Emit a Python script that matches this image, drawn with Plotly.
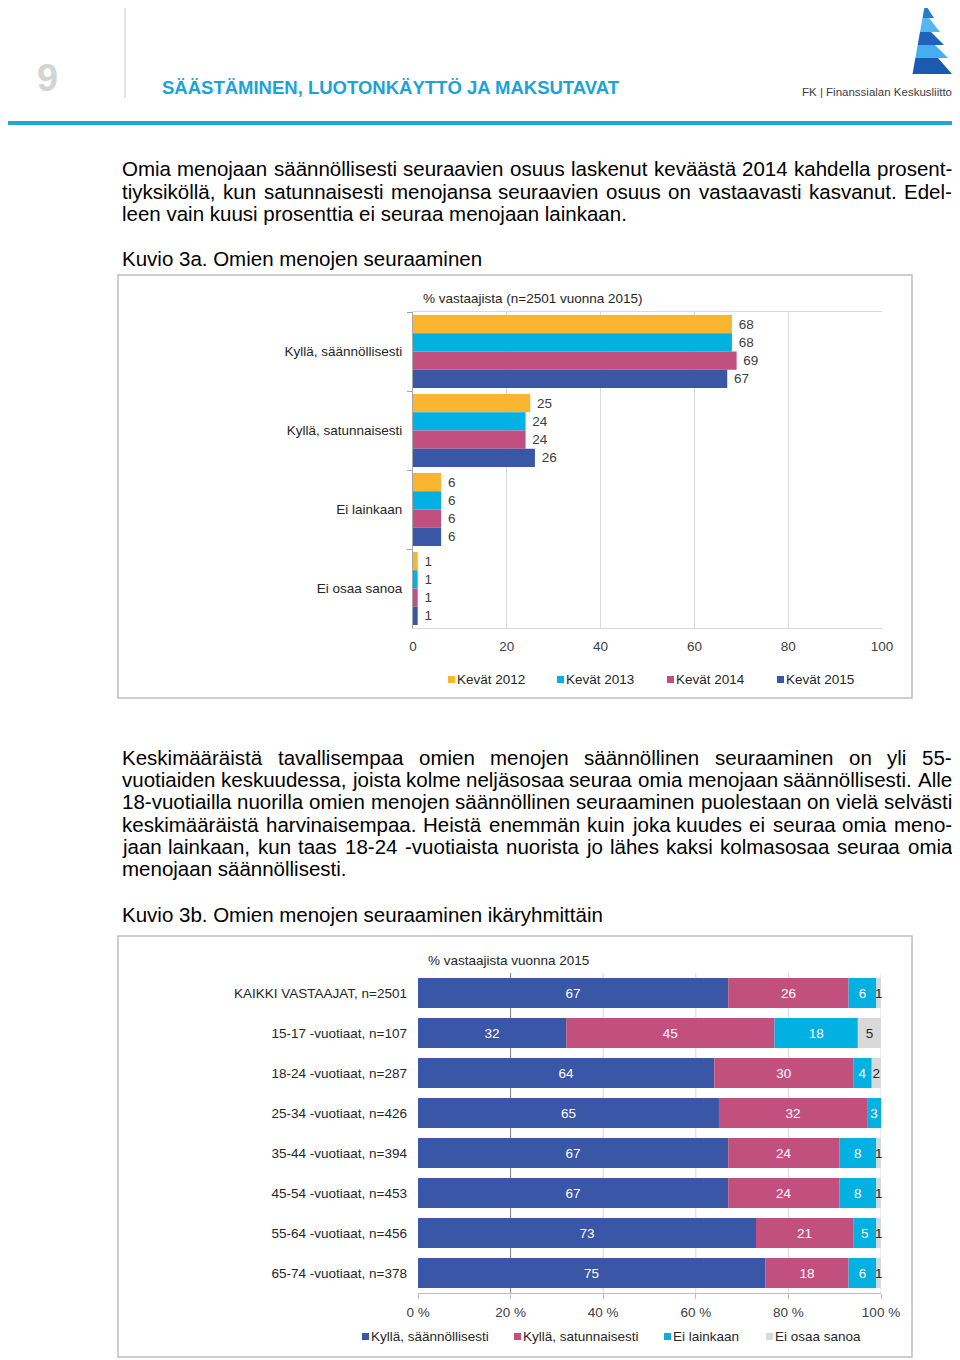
import plotly.graph_objects as go

# ---------------- data ----------------
answers = ["Kyllä, säännöllisesti", "Kyllä, satunnaisesti", "Ei lainkaan", "Ei osaa sanoa"]
years = ["Kevät 2012", "Kevät 2013", "Kevät 2014", "Kevät 2015"]
v2012 = [68, 25, 6, 1]
v2013 = [68, 24, 6, 1]
v2014 = [69, 24, 6, 1]
v2015 = [67, 26, 6, 1]

groups = ["KAIKKI VASTAAJAT, n=2501", "15-17 -vuotiaat, n=107", "18-24 -vuotiaat, n=287",
          "25-34 -vuotiaat, n=426", "35-44 -vuotiaat, n=394", "45-54 -vuotiaat, n=453",
          "55-64 -vuotiaat, n=456", "65-74 -vuotiaat, n=378"]
saannollisesti = [67, 32, 64, 65, 67, 67, 73, 75]
satunnaisesti = [26, 45, 30, 32, 24, 24, 21, 18]
ei_lainkaan = [6, 18, 4, 3, 8, 8, 5, 6]
ei_osaa = [1, 5, 2, 0, 1, 1, 1, 1]

ticks1 = [0, 20, 40, 60, 80, 100]
ticks2 = [0, 20, 40, 60, 80, 100]
ticklabels2 = ["0 %", "20 %", "40 %", "60 %", "80 %", "100 %"]

title1 = "% vastaajista (n=2501 vuonna 2015)"
title2 = "% vastaajista vuonna 2015"

para1 = ["Omia menojaan säännöllisesti seuraavien osuus laskenut keväästä 2014 kahdella prosent-",
         "tiyksiköllä, kun satunnaisesti menojansa seuraavien osuus on vastaavasti kasvanut. Edel-",
         "leen vain kuusi prosenttia ei seuraa menojaan lainkaan."]
para2 = ["Keskimääräistä tavallisempaa omien menojen säännöllinen seuraaminen on yli 55-",
         "vuotiaiden keskuudessa, joista kolme neljäsosaa seuraa omia menojaan säännöllisesti. Alle",
         "18-vuotiailla nuorilla omien menojen säännöllinen seuraaminen puolestaan on vielä selvästi",
         "keskimääräistä harvinaisempaa. Heistä enemmän kuin joka kuudes ei seuraa omia meno-",
         "jaan lainkaan, kun taas 18-24 -vuotiaista nuorista jo lähes kaksi kolmasosaa seuraa omia",
         "menojaan säännöllisesti."]

# ---------------- styling ----------------
FONT = "Liberation Sans, Arial, sans-serif"
C_OR, C_CY, C_MA, C_BL, C_GR = "#FAB530", "#02B0E2", "#C2507F", "#3A56A6", "#D9D9D9"
year_colors = [C_OR, C_CY, C_MA, C_BL]
ans_colors = [C_BL, C_MA, C_CY, C_GR]
# the page places the figure 8 px from the top-left corner
OFF = 8
W, H = 960 - OFF, 1360 - OFF


def X(px):
    return (px - OFF) / W


def Y(py):
    return 1 - (py - OFF) / H


fig = go.Figure()

# ---- chart 1: grouped horizontal bars ----
for name, vals, col in zip(years, [v2012, v2013, v2014, v2015], year_colors):
    fig.add_trace(go.Bar(
        x=vals, y=answers, orientation="h", name=name, marker=dict(color=col, line=dict(width=0)),
        texttemplate="\u00a0%{x}", textposition="outside", constraintext="none", cliponaxis=False,
        textfont=dict(family=FONT, size=13.5, color="#404040"),
        xaxis="x", yaxis="y", showlegend=False, hoverinfo="x+name"))

# ---- chart 2: 100 % stacked bars ----
series2 = [saannollisesti, satunnaisesti, ei_lainkaan, ei_osaa]
base = [0] * len(groups)
for name, vals, col in zip(answers, series2, ans_colors):
    fig.add_trace(go.Bar(
        x=vals, y=groups, base=list(base), orientation="h", name=name,
        marker=dict(color=col, line=dict(width=0)), offsetgroup="stack", width=0.75,
        text=[str(v) if v else "" for v in vals], textposition="inside", insidetextanchor="middle",
        constraintext="none", textangle=0, cliponaxis=False,
        textfont=dict(family=FONT, size=13.5, color="#262626" if col == C_GR else "white"),
        xaxis="x2", yaxis="y2", showlegend=False, hoverinfo="x+name"))
    base = [b + v for b, v in zip(base, vals)]

axis_font = dict(family=FONT, size=13.5, color="#404040")
cat_font = dict(family=FONT, size=13.5, color="#262626")

fig.update_layout(
    width=W, height=H, autosize=False, margin=dict(l=0, r=0, t=0, b=0, autoexpand=False),
    paper_bgcolor="white", plot_bgcolor="rgba(0,0,0,0)",
    barmode="group", bargap=0.076, bargroupgap=0, showlegend=False,
    font=dict(family=FONT, size=13.5, color="#404040"),
    xaxis=dict(domain=[X(413), X(882)], anchor="y", range=[0, 100], tickvals=ticks1,
               showgrid=True, gridcolor="#D9D9D9", gridwidth=1, zeroline=False,
               showline=True, mirror=True, linecolor="#D9D9D9", ticks="", automargin=False,
               tickfont=axis_font, ticklabelstandoff=6, fixedrange=True),
    yaxis=dict(domain=[Y(628), Y(312)], anchor="x", type="category", autorange="reversed",
               showgrid=False, zeroline=False, showline=True, linecolor="#A6A6A6",
               ticks="outside", tickson="boundaries", ticklen=5, tickcolor="#A6A6A6",
               automargin=False, tickfont=cat_font, ticklabelstandoff=7, fixedrange=True),
    xaxis2=dict(domain=[X(418), X(881)], anchor="y2", range=[0, 100], tickvals=ticks2,
                ticktext=ticklabels2, showgrid=False, zeroline=False,
                showline=True, linecolor="#BFBFBF", ticks="outside", ticklen=5,
                tickcolor="#BFBFBF", automargin=False, tickfont=axis_font,
                ticklabelstandoff=2, fixedrange=True),
    yaxis2=dict(domain=[Y(1293), Y(973)], anchor="x2", type="category", autorange="reversed",
                showgrid=False, zeroline=False, showline=False, ticks="", automargin=False,
                tickfont=cat_font, ticklabelstandoff=10, fixedrange=True),
)

shapes = []
annotations = []

# chart frames
for y0, y1 in [(275, 698), (936, 1357)]:
    shapes.append(dict(type="rect", xref="paper", yref="paper", x0=X(118), x1=X(912),
                       y0=Y(y1), y1=Y(y0), line=dict(color="#BFBFBF", width=1.5),
                       fillcolor="rgba(0,0,0,0)"))
# gridlines of chart 2 (the 20 % one appears darker in the original)
for t in ticks2[1:]:
    shapes.append(dict(type="line", xref="x2", yref="y2 domain", x0=t, x1=t, y0=0, y1=1,
                       line=dict(color="#808080" if t == 20 else "#D9D9D9", width=1),
                       layer="below"))

# header
shapes.append(dict(type="line", xref="paper", yref="paper", x0=X(125), x1=X(125),
                   y0=Y(98), y1=1, line=dict(color="#D9D9D9", width=1.5)))
shapes.append(dict(type="line", xref="paper", yref="paper", x0=0, x1=X(955),
                   y0=Y(123), y1=Y(123), line=dict(color="#1BA8DE", width=4)))
annotations.append(dict(x=X(47), y=Y(78), xref="paper", yref="paper", text="<b>9</b>",
                        showarrow=False, font=dict(family=FONT, size=38, color="#D4D4D4"),
                        xanchor="center", yanchor="middle"))
annotations.append(dict(x=X(162), y=Y(88), xref="paper", yref="paper",
                        text="<b>SÄÄSTÄMINEN, LUOTONKÄYTTÖ JA MAKSUTAVAT</b>",
                        showarrow=False, font=dict(family=FONT, size=18.5, color="#1BA3D9"),
                        xanchor="left", yanchor="middle", borderpad=0, borderwidth=0))

# logo (stylised spire)
bands = [  # (y_top, y_bot, right_top, right_bot, colour)
    (4, 18, 925, 934, "#2A7BCC"),
    (18, 32, 929, 940, "#55B6F0"),
    (32, 45, 931, 944, "#1D63B8"),
    (45, 58, 935, 948, "#45AEEE"),
    (58, 74, 938, 952, "#1A5BB0"),
]


def left_edge(y):
    return 925 - 12.5 * (y - 4) / 70


for yt, yb, rt, rb, col in bands:
    path = "M {:.5f} {:.5f} L {:.5f} {:.5f} L {:.5f} {:.5f} L {:.5f} {:.5f} Z".format(
        X(left_edge(yt)), Y(yt), X(rt), Y(yt), X(rb), Y(yb), X(left_edge(yb)), Y(yb))
    shapes.append(dict(type="path", xref="paper", yref="paper", path=path,
                       fillcolor=col, line=dict(width=0)))
annotations.append(dict(x=X(952), y=Y(92), xref="paper", yref="paper",
                        text="FK | Finanssialan Keskusliitto", showarrow=False,
                        font=dict(family="Liberation Sans Narrow, " + FONT, size=11.5, color="#404040"),
                        xanchor="right", yanchor="middle", borderpad=0, borderwidth=0))

# ---- justified body text ----
ARIAL = {}
for ch, w in zip("abcdefghijklmnopqrstuvwxyz",
                 [556, 556, 500, 556, 556, 278, 556, 556, 222, 222, 500, 222, 833, 556, 556, 556, 556,
                  333, 500, 278, 556, 500, 722, 500, 500, 500]):
    ARIAL[ch] = w
for ch, w in zip("ABCDEFGHIJKLMNOPQRSTUVWXYZ",
                 [667, 667, 722, 722, 667, 611, 778, 722, 278, 500, 667, 556, 833, 722, 778, 667, 778,
                  722, 667, 611, 722, 667, 944, 667, 667, 611]):
    ARIAL[ch] = w
for ch in "0123456789":
    ARIAL[ch] = 556
ARIAL.update({" ": 278, ",": 278, ".": 278, "-": 333, "(": 333, ")": 333, "%": 889, "=": 584,
              "ä": 556, "ö": 556, "å": 556, "Ä": 667, "Ö": 778})

BODY = 20.5
LEFT, RIGHT = 122, 952


def word_w(word):
    return sum(ARIAL.get(c, 556) for c in word) / 1000 * BODY


def add_line(text, y, justify):
    if not justify:
        annotations.append(dict(x=X(LEFT), y=Y(y), xref="paper", yref="paper", text=text,
                                showarrow=False, font=dict(family=FONT, size=BODY, color="black"),
                                xanchor="left", yanchor="middle", borderpad=0, borderwidth=0))
        return
    words = text.split(" ")
    widths = [word_w(w) for w in words]
    gap = (RIGHT - LEFT - sum(widths)) / (len(words) - 1)
    xpos = LEFT
    for w, wd in zip(words, widths):
        annotations.append(dict(x=X(xpos), y=Y(y), xref="paper", yref="paper", text=w,
                                showarrow=False, font=dict(family=FONT, size=BODY, color="black"),
                                xanchor="left", yanchor="middle", borderpad=0, borderwidth=0))
        xpos += wd + gap


for i, (line, y) in enumerate(zip(para1, [169, 191, 213])):
    add_line(line, y, i < len(para1) - 1)
add_line("Kuvio 3a. Omien menojen seuraaminen", 258, False)
for i, (line, y) in enumerate(zip(para2, [757, 779, 801, 824, 846, 868])):
    add_line(line, y, i < len(para2) - 1)
add_line("Kuvio 3b. Omien menojen seuraaminen ikäryhmittäin", 914, False)

# chart titles
annotations.append(dict(x=X(423), y=Y(298), xref="paper", yref="paper", text=title1,
                        showarrow=False, font=cat_font, xanchor="left", yanchor="middle",
                        borderpad=0, borderwidth=0))
annotations.append(dict(x=X(428), y=Y(960), xref="paper", yref="paper", text=title2,
                        showarrow=False, font=cat_font, xanchor="left", yanchor="middle",
                        borderpad=0, borderwidth=0))


# legends (drawn as key squares + labels)
def legend_item(sq_x, y, col, label):
    shapes.append(dict(type="rect", xref="paper", yref="paper", x0=X(sq_x), x1=X(sq_x + 7),
                       y0=Y(y + 4), y1=Y(y - 3), fillcolor=col, line=dict(width=0)))
    annotations.append(dict(x=X(sq_x + 9), y=Y(y), xref="paper", yref="paper", text=label,
                            showarrow=False, font=cat_font, xanchor="left", yanchor="middle",
                            borderpad=0, borderwidth=0))


for sx, col, lab in zip([448, 557, 667, 777], year_colors, years):
    legend_item(sx, 679, col, lab)
for sx, col, lab in zip([362, 514, 664, 766], ans_colors, answers):
    legend_item(sx, 1336, col, lab)

fig.update_layout(shapes=shapes, annotations=annotations)
fig.write_html("out.html", config={"displayModeBar": False})
